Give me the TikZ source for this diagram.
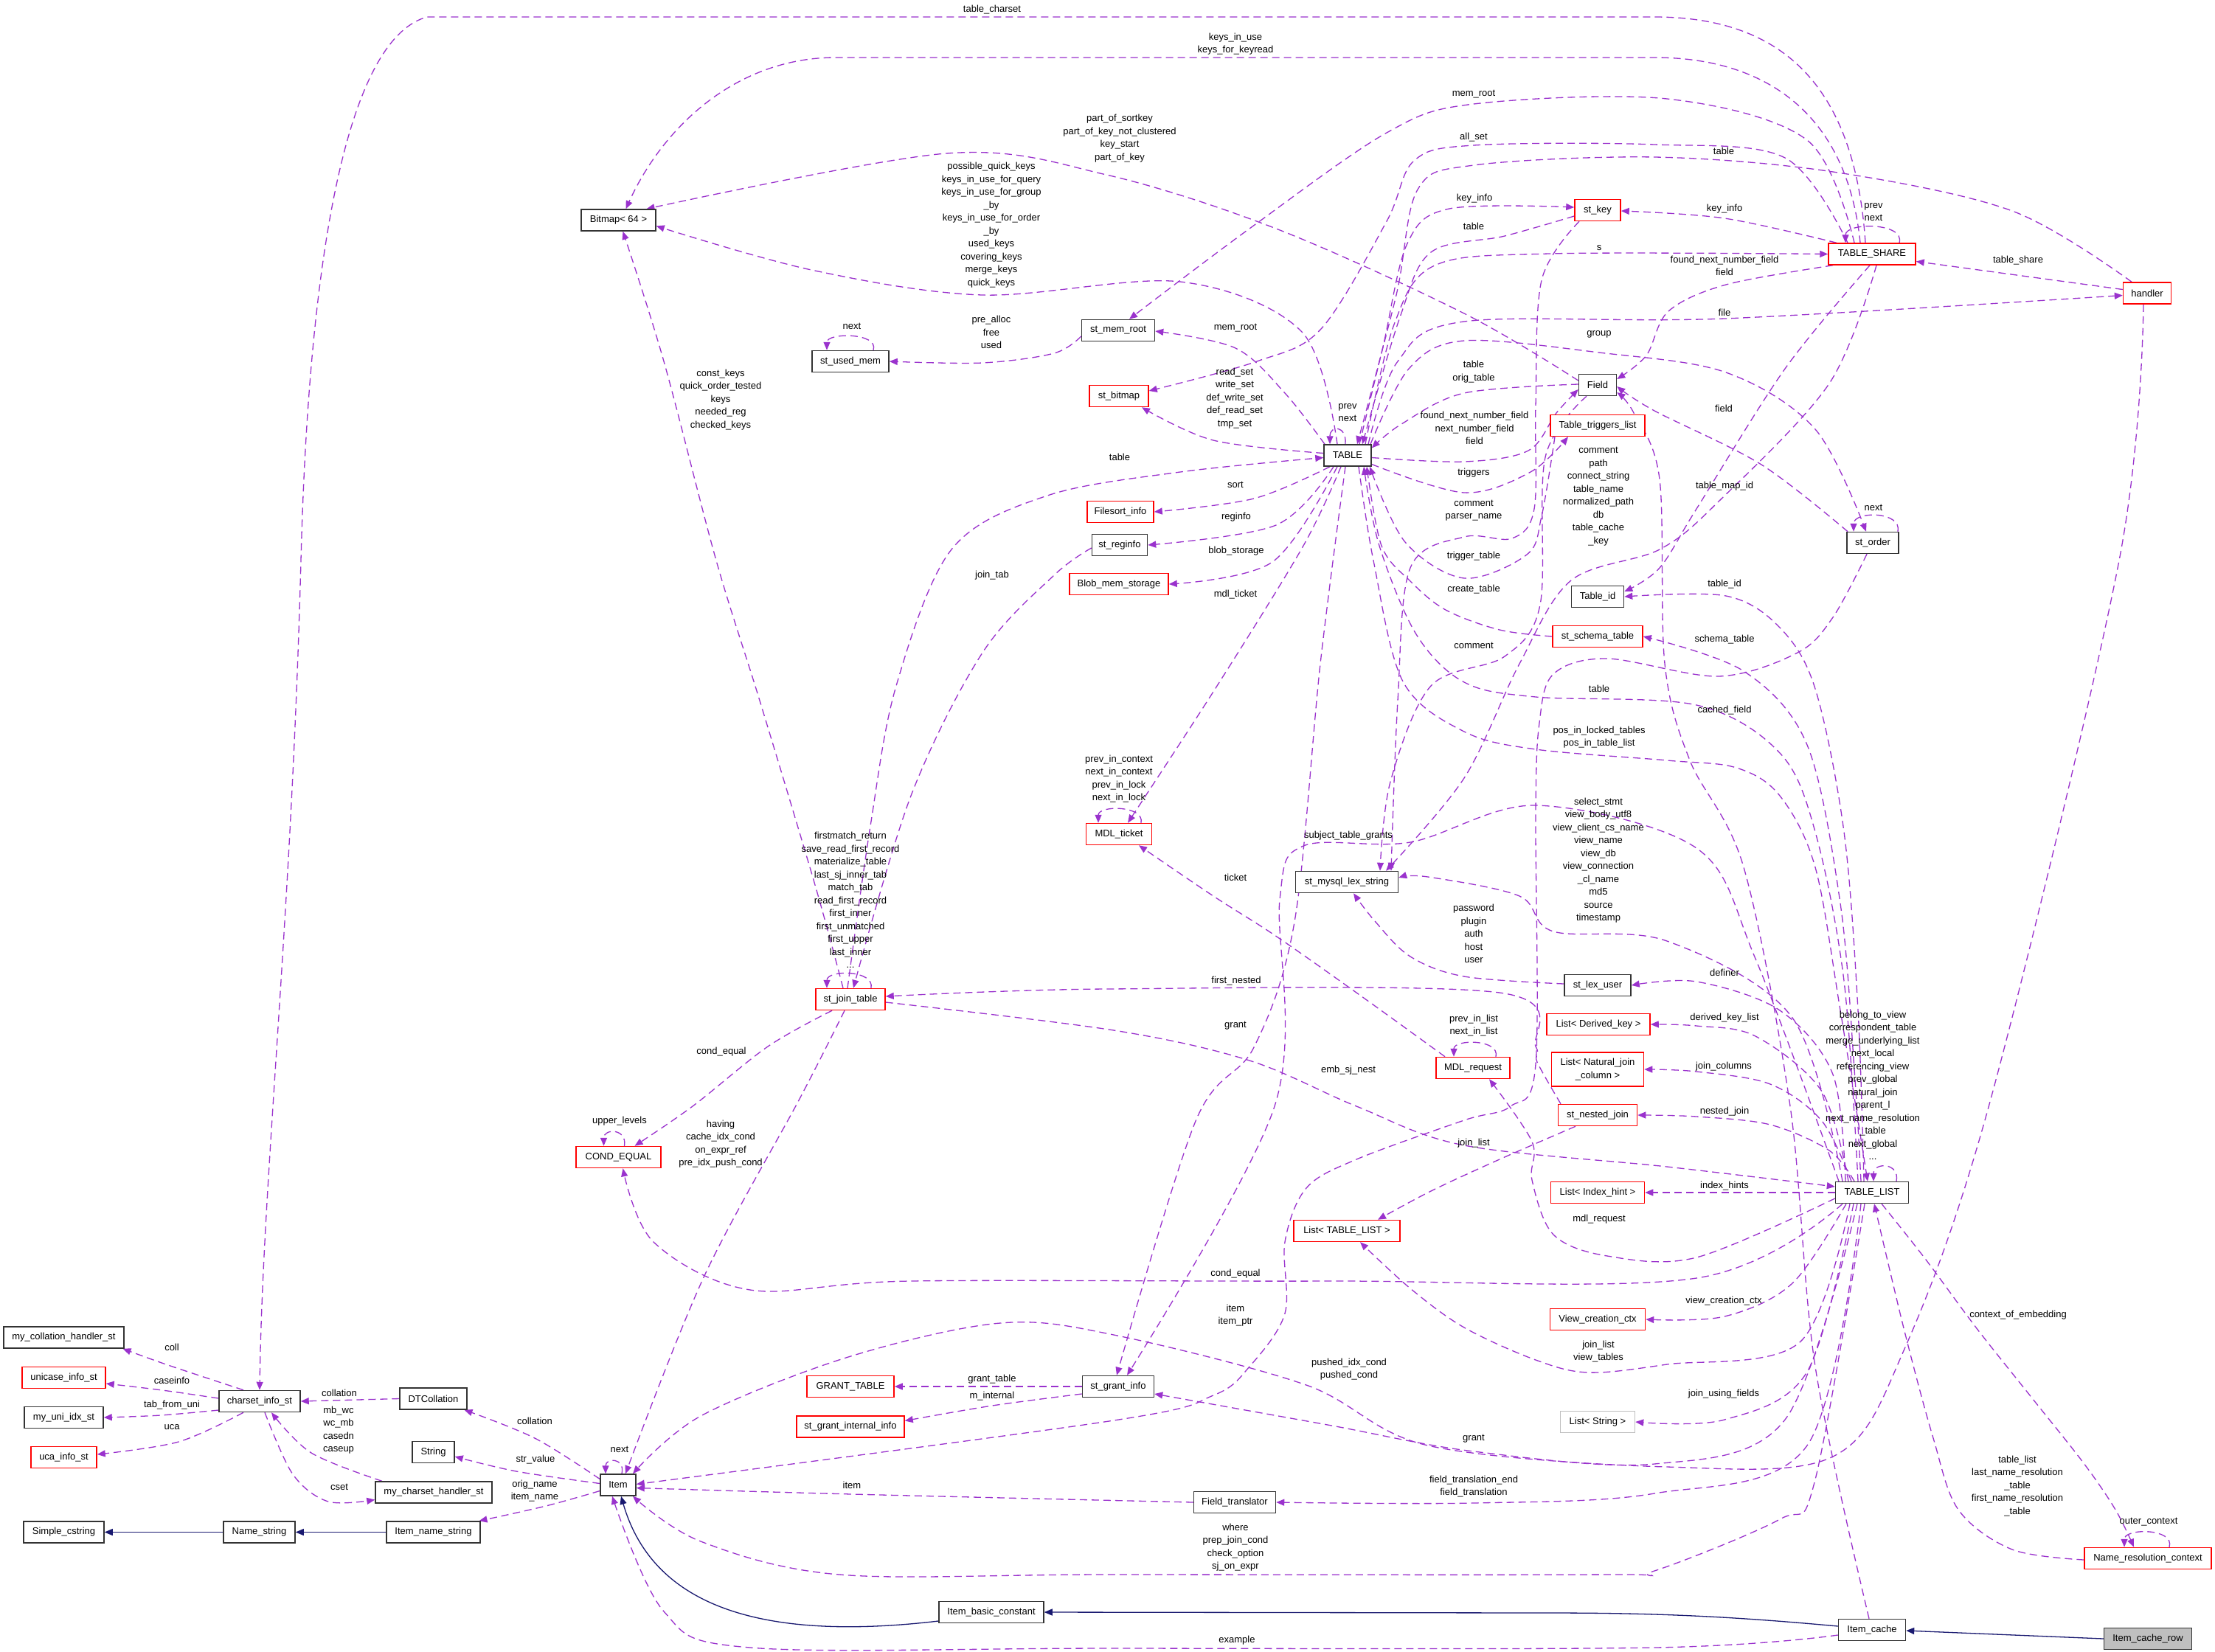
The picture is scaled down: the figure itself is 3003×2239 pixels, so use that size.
\documentclass[tikz,border=0pt]{standalone}
\usepackage{fontspec}
\setmainfont{Liberation Sans}
\usetikzlibrary{arrows.meta,backgrounds}
\definecolor{purp}{HTML}{9A32CD}
\definecolor{navyc}{HTML}{191970}
\definecolor{redb}{HTML}{FF0000}
\definecolor{grayb}{HTML}{BFBFBF}
\newcommand\labfont{\fontsize{13}{17.5}\selectfont}
\newcommand\edgeplot[2][]{\draw[e,#1] plot[smooth,tension=0.55] coordinates {#2};}
\tikzset{
  cls/.style={draw=black!80, line width=1.5pt, fill=white, minimum height=29pt, inner sep=2pt, font=\labfont},
  trn/.style={cls, draw=redb},
  lbl/.style={font=\labfont, align=center, inner sep=0pt},
  e/.style={draw=purp, line width=1.3pt, dash pattern=on 10pt off 6pt, -{Triangle[length=11pt,width=9pt,fill=purp]}},
  inh/.style={draw=navyc, line width=1.3pt, -{Triangle[length=11pt,width=9pt,fill=navyc]}}
}
\begin{document}
\begin{tikzpicture}[x=1pt,y=-1pt]
\useasboundingbox (0,0) rectangle (3003,2239);
% ---------------- nodes
\node[cls, minimum width=163pt] (mch) at (86.5,1813.5) {my\_collation\_handler\_st};
\node[trn, minimum width=113pt] (uni) at (86.5,1868) {unicase\_info\_st};
\node[cls, minimum width=107pt] (uidx) at (86.5,1922) {my\_uni\_idx\_st};
\node[trn, minimum width=89pt] (uca) at (86.5,1976) {uca\_info\_st};
\node[cls, minimum width=109pt] (scs) at (86.5,2077.5) {Simple\_cstring};
\node[cls, minimum width=110pt] (csi) at (352,1900) {charset\_info\_st};
\node[cls, minimum width=97pt] (nms) at (351.5,2077.5) {Name\_string};
\node[cls, minimum width=91pt] (dtc) at (587.5,1896.5) {DTCollation};
\node[cls, minimum width=57pt] (str) at (587.5,1969) {String};
\node[cls, minimum width=158pt] (mchs) at (588,2023.5) {my\_charset\_handler\_st};
\node[cls, minimum width=127pt] (ins) at (587.5,2077.5) {Item\_name\_string};
\node[cls, minimum width=101pt] (bmp) at (838.5,298.5) {Bitmap< 64 >};
\node[trn, minimum width=115pt] (ceq) at (838.5,1569) {COND\_EQUAL};
\node[cls, minimum width=48pt] (item) at (838,2013.5) {Item};
\node[cls, minimum width=104pt] (sum) at (1153,490) {st\_used\_mem};
\node[trn, minimum width=94pt] (sjt) at (1153,1355) {st\_join\_table};
\node[trn, minimum width=118pt] (gtab) at (1153,1880) {GRANT\_TABLE};
\node[trn, minimum width=146pt] (sgii) at (1153,1934.5) {st\_grant\_internal\_info};
\node[cls, minimum width=142pt] (ibc) at (1344,2186) {Item\_basic\_constant};
\node[cls, minimum width=99pt] (smr) at (1516,448) {st\_mem\_root};
\node[trn, minimum width=80pt] (sbm) at (1517,537) {st\_bitmap};
\node[trn, minimum width=90pt] (fsi) at (1519,694) {Filesort\_info};
\node[cls, minimum width=75pt] (sri) at (1518,739) {st\_reginfo};
\node[trn, minimum width=134pt] (bms) at (1517,792) {Blob\_mem\_storage};
\node[trn, minimum width=89pt] (mdlt) at (1517,1131) {MDL\_ticket};
\node[cls, minimum width=97pt] (sgi) at (1516,1880) {st\_grant\_info};
\node[cls, minimum width=111pt] (ftr) at (1674,2037) {Field\_translator};
\node[cls, minimum width=64pt] (tab) at (1827,617.5) {TABLE};
\node[cls, minimum width=139pt] (mls) at (1826,1196) {st\_mysql\_lex\_string};
\node[trn, minimum width=144pt] (ltl) at (1826,1669) {List< TABLE\_LIST >};
\node[trn, minimum width=100pt] (mdlr) at (1997,1448) {MDL\_request};
\node[trn, minimum width=62pt] (skey) at (2166,285) {st\_key};
\node[cls, minimum width=51pt] (fld) at (2166,522) {Field};
\node[trn, minimum width=128pt] (ttl) at (2166,577) {Table\_triggers\_list};
\node[cls, minimum width=71pt] (tid) at (2166,809) {Table\_id};
\node[trn, minimum width=122pt] (ssch) at (2166,863) {st\_schema\_table};
\node[cls, minimum width=90pt] (slu) at (2166,1336) {st\_lex\_user};
\node[trn, minimum width=140pt] (ldk) at (2167,1389) {List< Derived\_key >};
\node[trn, minimum width=125pt, minimum height=46pt, align=center] (lnjc) at (2166,1450) {List< Natural\_join\\\_column >};
\node[trn, minimum width=107pt] (snj) at (2166,1512) {st\_nested\_join};
\node[trn, minimum width=127pt] (lih) at (2166,1617) {List< Index\_hint >};
\node[trn, minimum width=129pt] (vcc) at (2166,1789) {View\_creation\_ctx};
\node[cls, draw=grayb, minimum width=101pt] (lstr) at (2166,1928) {List< String >};
\node[trn, minimum width=118pt] (tsh) at (2538,344.5) {TABLE\_SHARE};
\node[cls, minimum width=70pt] (sord) at (2539,736) {st\_order};
\node[cls, minimum width=99pt] (tl) at (2538,1617) {TABLE\_LIST};
\node[cls, minimum width=91pt] (ic) at (2538,2210) {Item\_cache};
\node[trn, minimum width=65pt] (hdl) at (2911,397.5) {handler};
\node[trn, minimum width=172pt] (nrc) at (2912,2113) {Name\_resolution\_context};
\node[cls, fill=grayb, minimum width=119pt] (icr) at (2912,2222) {Item\_cache\_row};
% ---------------- edges
\begin{scope}[on background layer]
\fill[white] (0,0) rectangle (3003,2239);
\draw[e] ([xshift=-9pt]tsh.north) .. controls (2515,120) and (2420,23) .. (2243,23) -- (579,23) .. controls (480,50) and (420,300) .. (408,760) .. controls (395,1250) and (356,1600) .. (csi.north);
\draw[e] ([xshift=-16pt]tsh.north) .. controls (2505,160) and (2400,78) .. (2243,78) -- (1133,78) .. controls (1000,78) and (900,170) .. ([xshift=10pt]bmp.north);
\edgeplot{([xshift=-24pt]tsh.north) (2450,190) (2260,134) (1998,141) (1880,180) (1694,310) ([xshift=15pt]smr.north)}
\edgeplot{([xshift=-33pt]tsh.north) (2420,214) (2243,196) (1998,197) (1917,218) (1880,300) (1791,446) (1704,490) ([yshift=7pt]sbm.east)}
\edgeplot{([xshift=-21pt]hdl.north) (2728,286) (2485,233) (2243,213) (1998,224) (1922,257) (1893,400) ([xshift=13pt]tab.north)}
\edgeplot{([xshift=16pt]tab.north) (1875,470) (1908,330) (1965,283) ([yshift=4pt]skey.west)}
\edgeplot{([yshift=-8pt]skey.west) (2040,320) (1940,342) (1898,430) ([xshift=20pt]tab.north)}
\edgeplot{([xshift=24pt]tab.north) (1890,440) (1945,360) (2100,344) (tsh.west)}
\edgeplot{([xshift=-48pt]tsh.north) (2338,296) ([yshift=-1pt]skey.east)}
\draw[e] ([xshift=37pt]tsh.north) .. controls +(8,-28) and +(0,-28) .. ([xshift=-36pt]tsh.north);
\draw[e] ([yshift=5pt]hdl.west) -- ([yshift=-10pt]tsh.east);
\edgeplot{([xshift=28pt]tab.north) (1895,490) (1985,436) (2338,432) ([yshift=-3pt]hdl.west)}
\edgeplot{([xshift=-53pt]tsh.south) (2340,386) (2262,422) (2232,482) ([yshift=8pt]fld.east)}
\edgeplot{([xshift=-34pt]sord.north) (2388,630) (2243,557) ([yshift=-2pt]fld.east)}
\edgeplot{([xshift=31pt]tab.north) (1910,500) (1985,462) (2168,478) (2340,505) (2461,582) ([xshift=-9pt]sord.north)}
\draw[e] ([xshift=34pt]sord.north) .. controls +(6,-28) and +(0,-28) .. ([xshift=-26pt]sord.north);
\edgeplot{([yshift=1pt]fld.west) (1985,533) (1900,575) ([yshift=10pt]tab.east)}
\edgeplot{([yshift=-3pt]tab.east) (1985,626) (2072,611) (2110,560) ([yshift=-6pt]fld.west)}
\edgeplot{([yshift=-12pt]tab.east) (1985,668) (2075,640) ([xshift=-40pt]ttl.south)}
\edgeplot{([xshift=-58pt]ttl.south) (2090,700) (2070,752) (1985,784) (1905,735) ([xshift=30pt]tab.south)}
\edgeplot{([xshift=-31pt]tab.north) (1742,533) (1675,472) ([yshift=-1pt]smr.east)}
\edgeplot{([yshift=3pt]tab.west) (1645,597) ([xshift=31pt]sbm.south)}
\draw[e] ([xshift=-3pt]tab.north) .. controls +(2,-26) and +(0,-26) .. ([xshift=-24pt]tab.north);
\edgeplot{([xshift=-14pt]tab.north) (1765,450) (1600,382) (1332,400) (1100,366) ([yshift=-8pt]bmp.east)}
\edgeplot{([yshift=6pt]fld.west) (1985,425) (1730,310) (1500,237) (1283,208) ([xshift=38pt]bmp.north)}
\edgeplot{([xshift=-24pt]tab.south) (1700,676) (fsi.east)}
\edgeplot{([xshift=-19pt]tab.south) (1730,712) (sri.east)}
\edgeplot{([xshift=-14pt]tab.south) (1725,762) (bms.east)}
\edgeplot{([xshift=-9pt]tab.south) (1767,740) (1650,930) ([xshift=12pt]mdlt.north)}
\edgeplot{([xshift=-3pt]tab.south) (1790,900) (1755,1250) (1700,1420) (1621,1520) ([xshift=-2pt]sgi.north)}
\edgeplot{([xshift=-4pt]sjt.north) (1180,1120) (1215,930) (1290,745) (1420,672) (1600,640) ([yshift=-3pt]tab.west)}
\edgeplot{([xshift=15pt]tab.south) (1862,760) (1902,924) (1985,992) (2082,1016) (2260,1031) (2354,1041) (2413,1079) (2461,1176) (2495,1370) ([xshift=-6pt]tl.north)}
\edgeplot{([xshift=-19pt]tl.north) (2500,1330) (2461,1128) (2413,1021) (2300,956) (2082,945) (1985,925) (1920,860) (1870,740) ([xshift=22pt]tab.south)}
\edgeplot{(ssch.west) (2033,854) (1960,827) (1912,788) (1873,740) ([xshift=26pt]tab.south)}
\edgeplot{([xshift=-25pt]skey.south) (2090,380) (2082,550) (2080,690) (2050,730) (1985,728) (1912,770) (1895,950) ([xshift=60pt]mls.north)}
\edgeplot{([xshift=-15pt]fld.south) (2095,620) (2088,820) (2040,890) (1940,930) (1885,1060) ([xshift=45pt]mls.north)}
\edgeplot{([xshift=6pt]tsh.south) (2480,520) (2330,680) (2250,745) (2130,787) (2060,900) (1985,1055) ([xshift=53pt]mls.north)}
\edgeplot{([xshift=-3pt]tsh.south) (2420,500) (2300,690) (2250,770) ([yshift=7pt]tid.east)}
\edgeplot{([yshift=2pt]slu.west) (1985,1324) (1912,1297) (1864,1249) ([xshift=9pt]mls.south)}
\edgeplot{([xshift=-40pt]tl.north) (2430,1380) (2260,1276) (2106,1263) (2060,1215) (1936,1189) ([yshift=6pt]mls.east)}
\edgeplot{([xshift=-45pt]tl.north) (2380,1300) (2300,1150) (2082,1092) (1912,1142) (1767,1147) (1735,1220) (1728,1500) ([xshift=12pt]sgi.north)}
\edgeplot{([xshift=-36pt]tl.north) (2485,1457) (2413,1370) (2300,1331) (slu.east)}
\edgeplot{([xshift=-32pt]tl.north) (2470,1480) (2380,1405) (2300,1391) (ldk.east)}
\edgeplot{([xshift=-28pt]tl.north) (2470,1520) (2400,1470) (2300,1453) (lnjc.east)}
\edgeplot{([xshift=-24pt]tl.north) (2480,1560) (2400,1525) (2300,1514) (snj.east)}
\draw[e] (tl.west) -- (lih.east);
\draw[e] ([xshift=33pt]tl.north) .. controls +(5,-26) and +(0,-26) .. ([xshift=2pt]tl.north);
\edgeplot{([xshift=-11pt]tl.north) (2519,1370) (2500,1128) (2461,934) (2413,851) (2340,808) (tid.east)}
\edgeplot{([xshift=-15pt]tl.north) (2514,1450) (2495,1225) (2450,1010) (2364,910) (ssch.east)}
\edgeplot{([yshift=-8pt]tl.west) (2300,1705) (2179,1703) (2106,1674) (2077,1600) (2077,1548) ([xshift=22pt]mdlr.south)}
\edgeplot{([xshift=-40pt]tl.south) (2300,1733) (1800,1737) (1235,1737) (1017,1749) (886,1684) ([xshift=6pt]ceq.south)}
\edgeplot{([xshift=-35pt]tl.south) (2430,1740) (2338,1785) (vcc.east)}
\edgeplot{([xshift=-30pt]tl.south) (2440,1820) (2260,1850) (2154,1861) (2082,1844) (1985,1800) (1912,1747) ([xshift=18pt]ltl.south)}
\edgeplot{([xshift=-25pt]tl.south) (2450,1860) (2338,1925) (lstr.east)}
\edgeplot{([xshift=-20pt]tl.south) (2420,1925) (2243,1985) (1998,1968) (1800,1932) ([yshift=-10pt]sgi.east)}
\edgeplot{([xshift=-15pt]tl.south) (2450,1960) (2243,2025) (1998,2038) (ftr.east)}
\edgeplot{([xshift=-10pt]tl.south) (2460,2010) (2413,2060) (2243,2130) (2179,2135) (1500,2135) (1138,2135) (950,2090) ([xshift=20pt]item.south)}
\edgeplot{([xshift=13pt]tl.south) (2611,1708) (2679,1800) (2752,1892) (2825,1984) (2868,2047) ([xshift=-19pt]nrc.north)}
\edgeplot{([yshift=-2pt]nrc.west) (2728,2101) (2655,2047) (2621,1950) (2582,1805) ([xshift=3pt]tl.south)}
\draw[e] ([xshift=29pt]nrc.north) .. controls +(8,-26) and +(0,-26) .. ([xshift=-32pt]nrc.north);
\edgeplot{([xshift=-4pt]ic.north) (2461,1853) (2427,1500) (2364,1176) (2291,1031) (2257,900) (2250,650) (2215,560) ([yshift=-10pt]fld.east)}
\edgeplot{([xshift=-5pt]hdl.south) (2873,760) (2699,1490) (2582,1829) (2485,1975) (2260,1989) (1936,1960) (1771,1878) (1510,1810) (1356,1794) (1150,1840) (950,1920) ([xshift=20pt]item.north)}
\edgeplot{([xshift=-8pt]sord.south) (2485,837) (2437,885) (2330,917) (2179,893) (2106,914) (2087,980) (2082,1100) (2082,1443) (2048,1500) (1985,1519) (1839,1572) (1771,1611) (1742,1684) (1742,1781) (1694,1853) (1645,1892) (1510,1926) ([yshift=1pt]item.east)}
\edgeplot{(ftr.west) (1155,2026) ([yshift=-4pt]item.east)}
\edgeplot{([yshift=-7pt]ic.west) (2243,2234) (1500,2235) (1017,2234) (900,2185) ([xshift=-8pt]item.south)}
\draw[inh] ([yshift=-12pt]ibc.west) .. controls (1000,2230) and (880,2160) .. ([xshift=4pt]item.south);
\draw[inh] ([yshift=5pt]ic.west) .. controls (2350,2192) and (2250,2187) .. (2100,2187) -- (ibc.east);
\draw[inh] (icr.west) -- ([yshift=-1pt]ic.east);
\draw[inh] (ins.west) -- (nms.east);
\draw[inh] (nms.west) -- (scs.east);
\edgeplot{([xshift=-8pt]sjt.south) (1084,1490) (954,1732) ([xshift=10pt]item.north)}
\edgeplot{([xshift=-25pt]sjt.south) (1041,1419) (939,1500) ([xshift=22pt]ceq.north)}
\draw[e] ([xshift=8pt]ceq.north) .. controls +(4,-24) and +(0,-24) .. ([xshift=-20pt]ceq.north);
\edgeplot{([xshift=-10pt]sjt.north) (1105,1200) (1030,950) (971,760) (900,490) ([xshift=6pt]bmp.south)}
\draw[e] ([xshift=28pt]sjt.north) .. controls +(5,-25) and +(0,-25) .. ([xshift=-32pt]sjt.north);
\edgeplot{([yshift=-4pt]sri.west) (1429,780) (1332,885) (1235,1079) ([xshift=4pt]sjt.north)}
\edgeplot{([xshift=-50pt]snj.north) (2084,1440) (2082,1419) (2033,1346) (1500,1341) ([yshift=4pt]sjt.east)}
\edgeplot{([yshift=-4pt]sjt.east) (1510,1397) (1694,1438) (1839,1500) (1985,1553) (2260,1582) ([yshift=8pt]tl.west)}
\edgeplot{([xshift=-30pt]snj.south) (2033,1572) (1940,1615) ([xshift=42pt]ltl.north)}
\edgeplot{([xshift=-38pt]mdlr.north) (1839,1346) (1728,1268) (1645,1215) ([xshift=27pt]mdlt.south)}
\draw[e] ([xshift=31pt]mdlr.north) .. controls +(6,-24) and +(0,-24) .. ([xshift=-26pt]mdlr.north);
\draw[e] ([xshift=30pt]mdlt.north) .. controls +(5,-24) and +(0,-24) .. ([xshift=-28pt]mdlt.north);
\draw[e] (sgi.west) -- (gtab.east);
\edgeplot{([yshift=-10pt]sgi.west) (1345,1906) ([yshift=8pt]sgii.east)}
\edgeplot{([yshift=-8pt]smr.west) (1429,479) (1332,492) (sum.east)}
\draw[e] ([xshift=31pt]sum.north) .. controls +(8,-24) and +(0,-24) .. ([xshift=-32pt]sum.north);
\edgeplot{([xshift=-22pt]csi.north) (228,1851) ([xshift=80pt]mch.south)}
\edgeplot{([yshift=4pt]csi.west) (220,1885) ([yshift=-8pt]uni.east)}
\edgeplot{([yshift=-12pt]csi.west) (218,1919) (uidx.east)}
\edgeplot{([xshift=-22pt]csi.south) (242,1955) ([yshift=4pt]uca.east)}
\draw[e] (dtc.west) -- (csi.east);
\edgeplot{([xshift=-70pt]mchs.north) (422,1970) ([xshift=16pt]csi.south)}
\edgeplot{([xshift=7pt]csi.south) (397,1999) (445,2036) ([yshift=-10pt]mchs.west)}
\edgeplot{([yshift=8pt]item.west) (725,1950) ([xshift=42pt]dtc.south)}
\edgeplot{([yshift=2pt]item.west) (700,1995) ([yshift=-6pt]str.east)}
\edgeplot{([yshift=-8pt]item.west) (740,2042) ([xshift=62pt]ins.north)}
\draw[e] ([xshift=5pt]item.north) .. controls +(5,-22) and +(0,-22) .. ([xshift=-17pt]item.north);
\end{scope}
% ---------------- labels
\node[lbl] (a01) at (1345,13) {table\_charset};
\node[lbl] (a02) at (1675,59.5) {keys\_in\_use\\keys\_for\_keyread};
\node[lbl] (a03) at (1998,128) {mem\_root};
\node[lbl] (a04) at (1998,186) {all\_set};
\node[lbl] (a05) at (1518,187.5) {part\_of\_sortkey\\part\_of\_key\_not\_clustered\\key\_start\\part\_of\_key};
\node[lbl] (a06) at (1344,305) {possible\_quick\_keys\\keys\_in\_use\_for\_query\\keys\_in\_use\_for\_group\\\_by\\keys\_in\_use\_for\_order\\\_by\\used\_keys\\covering\_keys\\merge\_keys\\quick\_keys};
\node[lbl] (a07) at (1999,269) {key\_info};
\node[lbl] (a08) at (1998,307) {table};
\node[lbl] (a09) at (2168,336) {s};
\node[lbl] (a10) at (2337,205) {table};
\node[lbl] (a11) at (2338,283) {key\_info};
\node[lbl] (a12) at (2540,287.5) {prev\\next};
\node[lbl] (a13) at (2338,360.5) {found\_next\_number\_field\\field};
\node[lbl] (a14) at (2736,353) {table\_share};
\node[lbl] (a15) at (2338,424) {file};
\node[lbl] (a16) at (1344,450.5) {pre\_alloc\\free\\used};
\node[lbl] (a17) at (1155,442) {next};
\node[lbl] (a18) at (977,542) {const\_keys\\quick\_order\_tested\\keys\\needed\_reg\\checked\_keys};
\node[lbl] (a19) at (1675,445) {mem\_root};
\node[lbl] (a20) at (2168,453) {group};
\node[lbl] (a21) at (1674,540) {read\_set\\write\_set\\def\_write\_set\\def\_read\_set\\tmp\_set};
\node[lbl] (a22) at (1998,504) {table\\orig\_table};
\node[lbl] (a23) at (1827,559.5) {prev\\next};
\node[lbl] (a24) at (2337,554) {field};
\node[lbl] (a25) at (1999,580.5) {found\_next\_number\_field\\next\_number\_field\\field};
\node[lbl] (a26) at (2167,673) {comment\\path\\connect\_string\\table\_name\\normalized\_path\\db\\table\_cache\\\_key};
\node[lbl] (a27) at (1518,620) {table};
\node[lbl] (a28) at (1998,641) {triggers};
\node[lbl] (a29) at (1675,657) {sort};
\node[lbl] (a30) at (2338,659) {table\_map\_id};
\node[lbl] (a31) at (1998,692) {comment\\parser\_name};
\node[lbl] (a32) at (2540,688) {next};
\node[lbl] (a33) at (1676,701) {reginfo};
\node[lbl] (a34) at (1676,747) {blob\_storage};
\node[lbl] (a35) at (1998,754) {trigger\_table};
\node[lbl] (a36) at (1345,780) {join\_tab};
\node[lbl] (a37) at (2338,792) {table\_id};
\node[lbl] (a38) at (1998,799) {create\_table};
\node[lbl] (a39) at (1675,806) {mdl\_ticket};
\node[lbl] (a40) at (2338,867) {schema\_table};
\node[lbl] (a41) at (1998,875) {comment};
\node[lbl] (a42) at (2168,934) {table};
\node[lbl] (a43) at (2338,963) {cached\_field};
\node[lbl] (a44) at (2168,999.5) {pos\_in\_locked\_tables\\pos\_in\_table\_list};
\node[lbl] (a45) at (1517,1056) {prev\_in\_context\\next\_in\_context\\prev\_in\_lock\\next\_in\_lock};
\node[lbl] (a46) at (2167,1166.5) {select\_stmt\\view\_body\_utf8\\view\_client\_cs\_name\\view\_name\\view\_db\\view\_connection\\\_cl\_name\\md5\\source\\timestamp};
\node[lbl] (a47) at (1828,1133) {subject\_table\_grants};
\node[lbl] (a48) at (1153,1220.5) {firstmatch\_return\\save\_read\_first\_record\\materialize\_table\\last\_sj\_inner\_tab\\match\_tab\\read\_first\_record\\first\_inner\\first\_unmatched\\first\_upper\\last\_inner\\...};
\node[lbl] (a49) at (1675,1190) {ticket};
\node[lbl] (a50) at (1998,1266) {password\\plugin\\auth\\host\\user};
\node[lbl] (a51) at (2338,1319) {definer};
\node[lbl] (a52) at (1676,1330) {first\_nested};
\node[lbl] (a53) at (2338,1380) {derived\_key\_list};
\node[lbl] (a54) at (1998,1390.5) {prev\_in\_list\\next\_in\_list};
\node[lbl] (a55) at (1675,1391) {grant};
\node[lbl] (a56) at (2539,1472) {belong\_to\_view\\correspondent\_table\\merge\_underlying\_list\\next\_local\\referencing\_view\\prev\_global\\natural\_join\\parent\_l\\next\_name\_resolution\\\_table\\next\_global\\...};
\node[lbl] (a57) at (2337,1446) {join\_columns};
\node[lbl] (a58) at (1828,1451) {emb\_sj\_nest};
\node[lbl] (a59) at (978,1426) {cond\_equal};
\node[lbl] (a60) at (2338,1507) {nested\_join};
\node[lbl] (a61) at (840,1520) {upper\_levels};
\node[lbl] (a62) at (977,1551) {having\\cache\_idx\_cond\\on\_expr\_ref\\pre\_idx\_push\_cond};
\node[lbl] (a63) at (1998,1550) {join\_list};
\node[lbl] (a64) at (2338,1608) {index\_hints};
\node[lbl] (a65) at (2168,1653) {mdl\_request};
\node[lbl] (a66) at (1675,1727) {cond\_equal};
\node[lbl] (a67) at (2337,1764) {view\_creation\_ctx};
\node[lbl] (a68) at (1675,1783.5) {item\\item\_ptr};
\node[lbl] (a69) at (2736,1783) {context\_of\_embedding};
\node[lbl] (a70) at (2167,1832.5) {join\_list\\view\_tables};
\node[lbl] (a71) at (233,1827) {coll};
\node[lbl] (a72) at (1829,1856.5) {pushed\_idx\_cond\\pushed\_cond};
\node[lbl] (a73) at (1345,1870) {grant\_table};
\node[lbl] (a74) at (233,1872) {caseinfo};
\node[lbl] (a75) at (460,1889) {collation};
\node[lbl] (a76) at (1345,1893) {m\_internal};
\node[lbl] (a77) at (2337,1890) {join\_using\_fields};
\node[lbl] (a78) at (233,1905) {tab\_from\_uni};
\node[lbl] (a79) at (459,1939) {mb\_wc\\wc\_mb\\casedn\\caseup};
\node[lbl] (a80) at (725,1927) {collation};
\node[lbl] (a81) at (233,1935) {uca};
\node[lbl] (a82) at (1998,1951) {grant};
\node[lbl] (a83) at (840,1965) {next};
\node[lbl] (a84) at (726,1979) {str\_value};
\node[lbl] (a85) at (2735,2015) {table\_list\\last\_name\_resolution\\\_table\\first\_name\_resolution\\\_table};
\node[lbl] (a86) at (1998,2015.5) {field\_translation\_end\\field\_translation};
\node[lbl] (a87) at (1155,2014) {item};
\node[lbl] (a88) at (725,2021.5) {orig\_name\\item\_name};
\node[lbl] (a89) at (460,2016) {cset};
\node[lbl] (a90) at (2913,2064) {outer\_context};
\node[lbl] (a91) at (1675,2098) {where\\prep\_join\_cond\\check\_option\\sj\_on\_expr};
\node[lbl] (a92) at (1677,2224) {example};
\end{tikzpicture}
\end{document}
